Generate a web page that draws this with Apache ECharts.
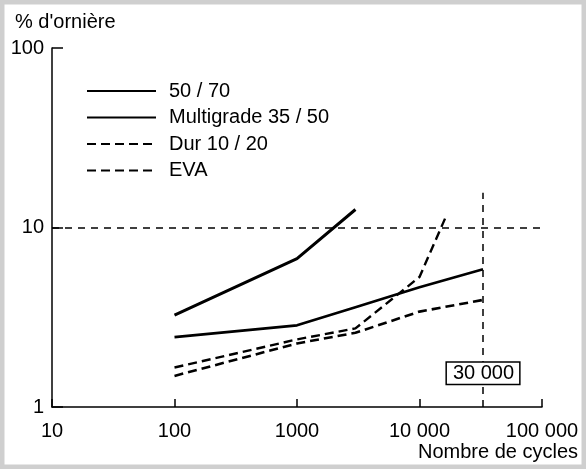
<!DOCTYPE html>
<html>
<head>
<meta charset="utf-8">
<script src="https://cdn.jsdelivr.net/npm/echarts@6/dist/echarts.min.js"></script>
<style>
html,body{margin:0;padding:0;background:#fff;}
#chart{width:586px;height:469px;}
</style>
</head>
<body>
<div id="chart"></div>
<script>
// ---- data ----
const seriesNames = ['50 / 70', 'Multigrade 35 / 50', 'Dur 10 / 20', 'EVA'];
const cycles5070 = [100, 1000, 3000];
const rut5070 = [3.25, 6.7, 12.6];
const cyclesMulti = [100, 1000, 3000, 10000, 33000];
const rutMulti = [2.45, 2.85, 3.6, 4.64, 5.85];
const cyclesDur = [100, 1000, 3000, 10000, 16700];
const rutDur = [1.66, 2.38, 2.74, 5.3, 11.8];
const cyclesEva = [100, 1000, 3000, 10000, 33000];
const rutEva = [1.49, 2.26, 2.59, 3.4, 3.95];
const xTicks = [10, 100, 1000, 10000, 100000];
const yTicks = [1, 10, 100];
const thresholdRut = 10;
const thresholdCycles = 33000;
const thresholdLabel = '30 000';
const verticalTop = 15.6;
const boxY = 1.54;

const FONT = "'Liberation Sans', Arial, Helvetica, sans-serif";
const pairs = (xs, ys) => xs.map((x, i) => [x, ys[i]]);
const fmtX = v => (v >= 10000 ? String(v).replace(/\B(?=(\d{3})+(?!\d))/g, ' ') : String(v));

const chart = echarts.init(document.getElementById('chart'), null, {renderer: 'canvas'});
const option = {
  animation: false,
  backgroundColor: '#ffffff',
  textStyle: {fontFamily: FONT, color: '#000'},
  grid: {left: 52, right: 44, top: 48, bottom: 62},
  legend: {
    orient: 'vertical', left: 86, top: 81, padding: 0,
    itemWidth: 69, itemHeight: 14, itemGap: 6.5,
    data: seriesNames,
    itemStyle: {opacity: 0},
    textStyle: {fontFamily: FONT, fontSize: 20, color: '#000', padding: [0, 0, 0, 8]}
  },
  xAxis: {
    type: 'log', logBase: 10, min: xTicks[0], max: xTicks[xTicks.length - 1],
    axisLine: {show: true, lineStyle: {color: '#000', width: 1.5}},
    axisTick: {show: true, inside: true, length: 8, lineStyle: {color: '#000', width: 1.5}},
    minorTick: {show: false},
    splitLine: {show: false},
    axisLabel: {fontFamily: FONT, fontSize: 20, color: '#000', margin: 14, formatter: fmtX, showMaxLabel: true, showMinLabel: true}
  },
  yAxis: {
    type: 'log', logBase: 10, min: yTicks[0], max: yTicks[yTicks.length - 1],
    axisLine: {show: true, lineStyle: {color: '#000', width: 1.5}},
    axisTick: {show: true, inside: true, length: 11, lineStyle: {color: '#000', width: 1.5}},
    splitLine: {show: false},
    axisLabel: {fontFamily: FONT, fontSize: 20, color: '#000', margin: 8}
  },
  graphic: [
    {type: 'rect', z: 100, silent: true, shape: {x: 0, y: 0, width: 586, height: 469},
     style: {fill: 'none', stroke: '#cfcfcf', lineWidth: 9}},
    {type: 'text', left: 15, top: 12, style: {text: "% d'ornière", font: '20px ' + FONT, fill: '#000'}},
    {type: 'text', right: 8, top: 442, style: {text: 'Nombre de cycles', font: '20px ' + FONT, fill: '#000'}}
  ],
  series: [
    {name: seriesNames[0], type: 'line', symbol: 'none', data: pairs(cycles5070, rut5070),
     lineStyle: {color: '#000', width: 3}, itemStyle: {color: '#000'},
     markLine: {
       silent: true, symbol: 'none', label: {show: false},
       lineStyle: {color: '#000', width: 1.5, type: [7, 6]},
       data: [
         [{coord: [xTicks[0], thresholdRut]}, {coord: [xTicks[xTicks.length - 1], thresholdRut]}],
         [{coord: [thresholdCycles, yTicks[0]]}, {coord: [thresholdCycles, verticalTop]}]
       ]
     },
     markPoint: {
       silent: true, symbol: 'rect', symbolSize: 0,
       data: [{coord: [thresholdCycles, boxY], value: thresholdLabel}],
       label: {show: true, position: 'inside', formatter: thresholdLabel, fontFamily: FONT, fontSize: 20, color: '#000',
               backgroundColor: '#fff', borderColor: '#000', borderWidth: 1.5, padding: [1, 5, 0, 6]}
     }
    },
    {name: seriesNames[1], type: 'line', symbol: 'none', data: pairs(cyclesMulti, rutMulti),
     lineStyle: {color: '#000', width: 2.6}, itemStyle: {color: '#000'}},
    {name: seriesNames[2], type: 'line', symbol: 'none', data: pairs(cyclesDur, rutDur),
     lineStyle: {color: '#000', width: 2.4, type: [9, 5]}, itemStyle: {color: '#000'}},
    {name: seriesNames[3], type: 'line', symbol: 'none', data: pairs(cyclesEva, rutEva),
     lineStyle: {color: '#000', width: 2.6, type: [9, 5]}, itemStyle: {color: '#000'}}
  ]
};
chart.setOption(option);
</script>
</body>
</html>
